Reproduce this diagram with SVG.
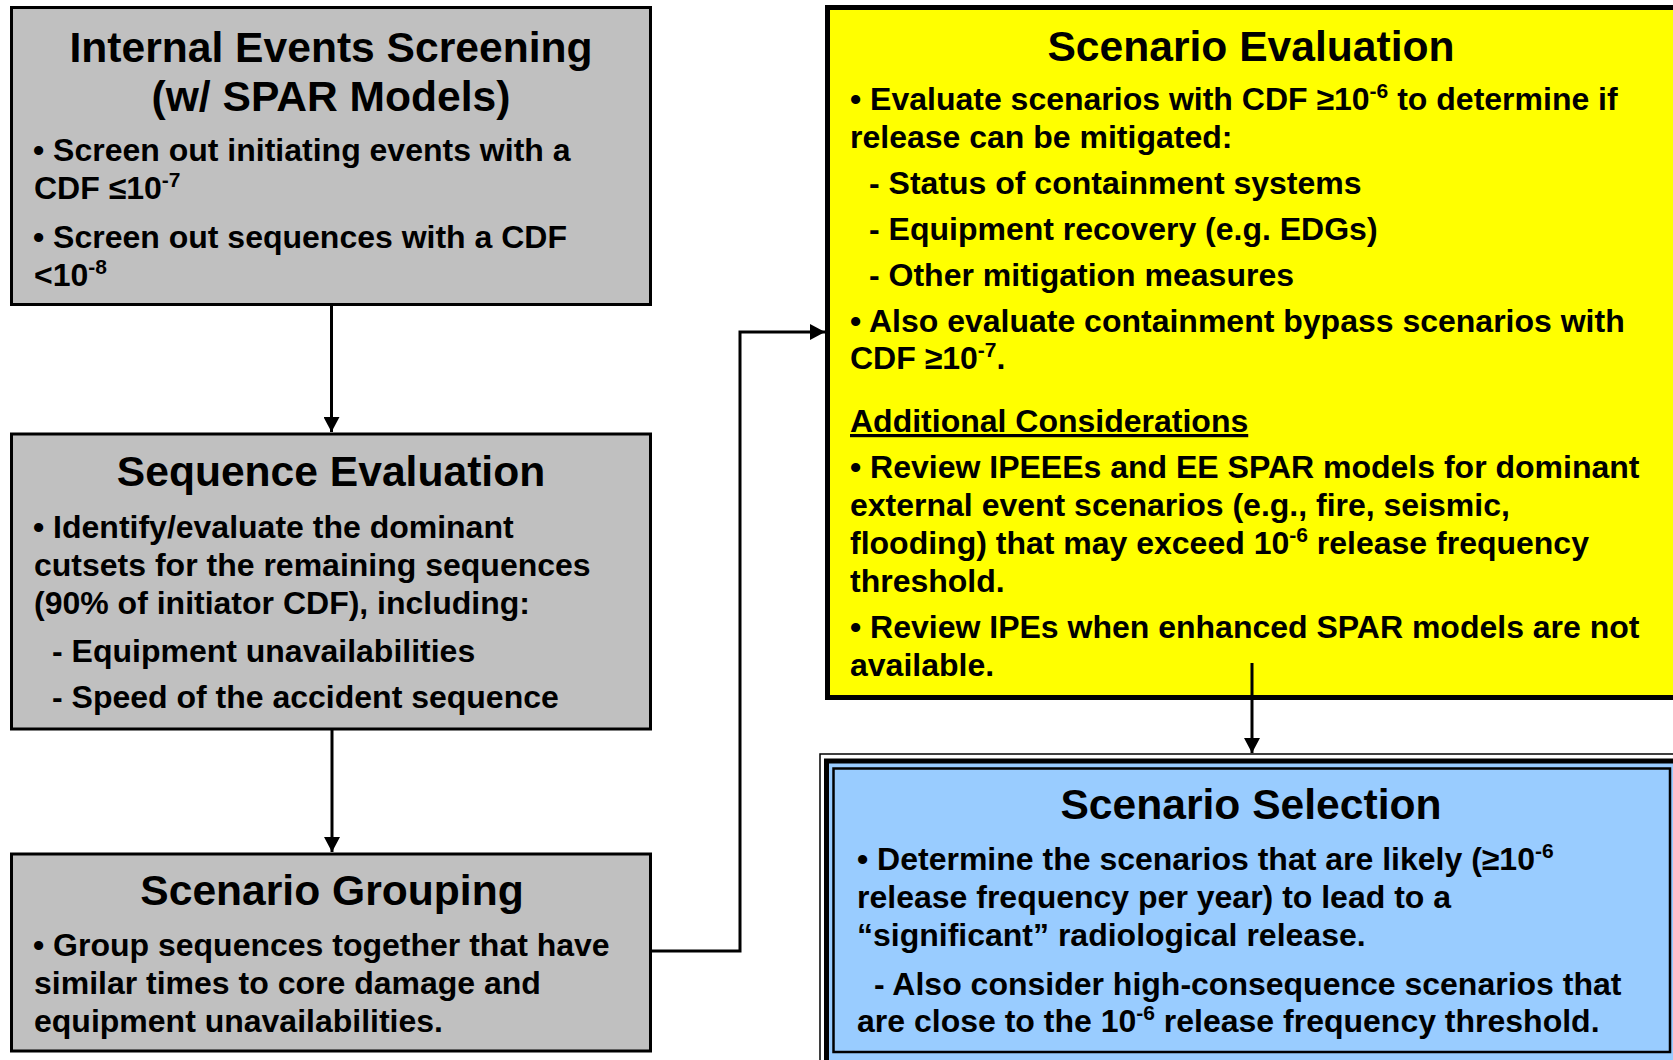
<svg xmlns="http://www.w3.org/2000/svg" width="1673" height="1060" viewBox="0 0 1673 1060">
<style>
text{font-family:"Liberation Sans",Arial,Helvetica,sans-serif;font-weight:bold;fill:#000}
.t{font-size:42.6px;text-anchor:middle}
.b{font-size:32px}
.gray{fill:#C0C0C0;stroke:#000;stroke-width:3}
.conn{fill:none;stroke:#000;stroke-width:3}
</style>
<defs>
<marker id="ah" markerUnits="userSpaceOnUse" markerWidth="16" markerHeight="16" refX="15" refY="8" orient="auto">
<path d="M0,0 L15,8 L0,16 z" fill="#000"/>
</marker>
</defs>
<rect width="1673" height="1060" fill="#fff"/>

<g id="n-screening">
<rect class="gray" x="11.5" y="7.5" width="639" height="297"/>
<text class="t" x="331" y="62">Internal Events Screening</text>
<text class="t" x="331" y="111">(w/ SPAR Models)</text>
<text class="b" x="33" y="161">• Screen out initiating events with a</text>
<text class="b" x="34" y="199">CDF ≤10<tspan dy="-12" font-size="21">-7</tspan></text>
<text class="b" x="33" y="248">• Screen out sequences with a CDF</text>
<text class="b" x="34" y="286">&lt;10<tspan dy="-12" font-size="21">-8</tspan></text>
</g>

<g id="n-sequence">
<rect class="gray" x="11.5" y="434" width="639" height="295"/>
<text class="t" x="331" y="486">Sequence Evaluation</text>
<text class="b" x="33" y="538">• Identify/evaluate the dominant</text>
<text class="b" x="34" y="576">cutsets for the remaining sequences</text>
<text class="b" x="34" y="614">(90% of initiator CDF), including:</text>
<text class="b" x="52" y="662">- Equipment unavailabilities</text>
<text class="b" x="52" y="708">- Speed of the accident sequence</text>
</g>

<g id="n-grouping">
<rect class="gray" x="11.5" y="854" width="639" height="197"/>
<text class="t" x="332" y="905">Scenario Grouping</text>
<text class="b" x="33" y="956">• Group sequences together that have</text>
<text class="b" x="34" y="994">similar times to core damage and</text>
<text class="b" x="34" y="1032">equipment unavailabilities.</text>
</g>

<g id="n-evaluation">
<rect x="827.5" y="7.5" width="860" height="690" fill="#FFFF00" stroke="#000" stroke-width="5"/>
<text class="t" x="1251" y="61">Scenario Evaluation</text>
<text class="b" x="850" y="110">• Evaluate scenarios with CDF ≥10<tspan dy="-12" font-size="21">-6</tspan><tspan dy="12"> to determine if</tspan></text>
<text class="b" x="850" y="148">release can be mitigated:</text>
<text class="b" x="869" y="194">- Status of containment systems</text>
<text class="b" x="869" y="240">- Equipment recovery (e.g. EDGs)</text>
<text class="b" x="869" y="286">- Other mitigation measures</text>
<text class="b" x="850" y="332">• Also evaluate containment bypass scenarios with</text>
<text class="b" x="850" y="369">CDF ≥10<tspan dy="-12" font-size="21">-7</tspan><tspan dy="12">.</tspan></text>
<text class="b" x="850" y="432" text-decoration="underline">Additional Considerations</text>
<text class="b" x="850" y="478">• Review IPEEEs and EE SPAR models for dominant</text>
<text class="b" x="850" y="516">external event scenarios (e.g., fire, seismic,</text>
<text class="b" x="850" y="554">flooding) that may exceed 10<tspan dy="-12" font-size="21">-6</tspan><tspan dy="12"> release frequency</tspan></text>
<text class="b" x="850" y="592">threshold.</text>
<text class="b" x="850" y="638">• Review IPEs when enhanced SPAR models are not</text>
<text class="b" x="850" y="676">available.</text>
</g>

<g id="n-selection">
<rect x="820" y="754" width="880" height="320" fill="#fff" stroke="#000" stroke-width="1.5"/>
<rect x="826.5" y="761" width="870" height="310" fill="#99CCFF" stroke="#000" stroke-width="5"/>
<rect x="833.5" y="768.5" width="836.5" height="283.5" fill="#99CCFF" stroke="#000" stroke-width="2.5"/>
<text class="t" x="1251" y="819">Scenario Selection</text>
<text class="b" x="857" y="870">• Determine the scenarios that are likely (≥10<tspan dy="-12" font-size="21">-6</tspan></text>
<text class="b" x="857" y="908">release frequency per year) to lead to a</text>
<text class="b" x="857" y="946">“significant” radiological release.</text>
<text class="b" x="874" y="995">- Also consider high-consequence scenarios that</text>
<text class="b" x="857" y="1032">are close to the 10<tspan dy="-12" font-size="21">-6</tspan><tspan dy="12"> release frequency threshold.</tspan></text>
</g>

<g id="connectors">
<line class="conn" x1="331.5" y1="306" x2="331.5" y2="432" marker-end="url(#ah)"/>
<line class="conn" x1="332" y1="730" x2="332" y2="852" marker-end="url(#ah)"/>
<polyline class="conn" points="651,951 740,951 740,332 825,332" marker-end="url(#ah)"/>
<line class="conn" x1="1252" y1="663" x2="1252" y2="753" marker-end="url(#ah)"/>
</g>
</svg>
